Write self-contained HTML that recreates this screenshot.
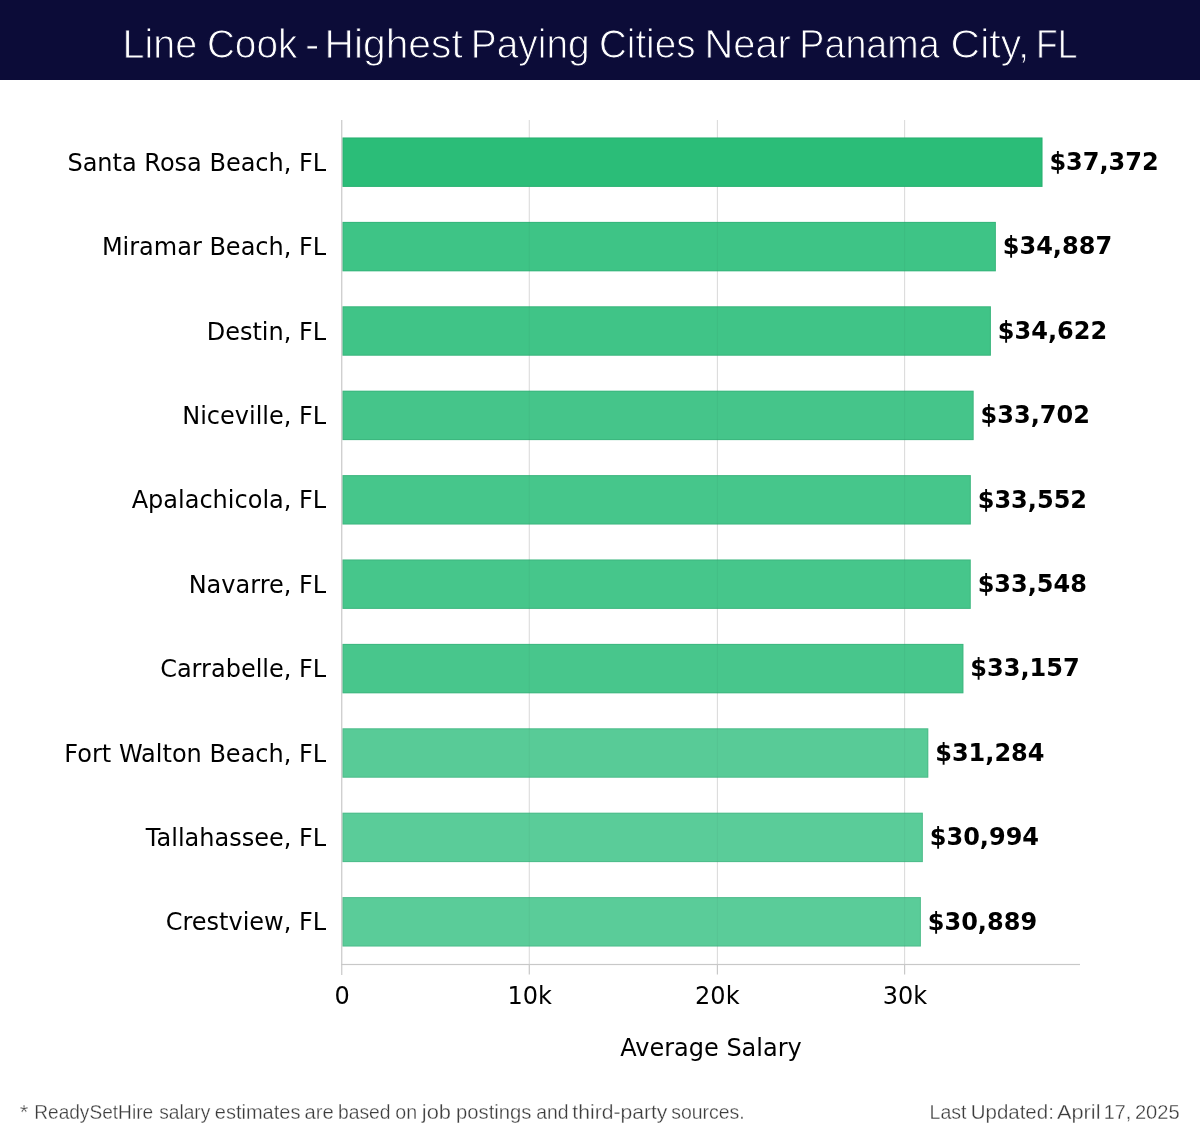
<!DOCTYPE html>
<html lang="en"><head><meta charset="utf-8"><title>Line Cook - Highest Paying Cities Near Panama City, FL</title>
<style>
html,body{margin:0;padding:0;background:#fff;}
body{width:1200px;height:1140px;overflow:hidden;position:relative;font-family:"DejaVu Sans","Liberation Sans",sans-serif;}
svg{position:absolute;left:0;top:0;display:block;}
.t{font-family:"Liberation Sans","DejaVu Sans",sans-serif;}
.d{font-family:"DejaVu Sans","Liberation Sans",sans-serif;}
</style></head><body>
<svg width="1200" height="1140" viewBox="0 0 1200 1140">
<rect x="0" y="0" width="1200" height="1140" fill="#ffffff"/>
<rect x="0" y="0" width="1200" height="80" fill="#0c0c38"/>
<text class="t" transform="translate(122.62 58.0) scale(0.9731 1)" font-size="40.6" fill="#ffffff" stroke="#0c0c38" stroke-width="1.0">Line </text><text class="t" transform="translate(206.90 58.0) scale(0.9542 1)" font-size="40.6" fill="#ffffff" stroke="#0c0c38" stroke-width="1.0">Cook </text><text class="t" transform="translate(304.95 58.0) scale(1.0696 1)" font-size="40.6" fill="#ffffff" stroke="#0c0c38" stroke-width="1.0">- </text><text class="t" transform="translate(324.51 58.0) scale(1.0043 1)" font-size="40.6" fill="#ffffff" stroke="#0c0c38" stroke-width="1.0">Highest </text><text class="t" transform="translate(470.77 58.0) scale(0.9582 1)" font-size="40.6" fill="#ffffff" stroke="#0c0c38" stroke-width="1.0">Paying </text><text class="t" transform="translate(598.93 58.0) scale(0.9514 1)" font-size="40.6" fill="#ffffff" stroke="#0c0c38" stroke-width="1.0">Cities </text><text class="t" transform="translate(704.46 58.0) scale(0.9813 1)" font-size="40.6" fill="#ffffff" stroke="#0c0c38" stroke-width="1.0">Near </text><text class="t" transform="translate(799.33 58.0) scale(0.9278 1)" font-size="40.6" fill="#ffffff" stroke="#0c0c38" stroke-width="1.0">Panama </text><text class="t" transform="translate(950.62 58.0) scale(1.0086 1)" font-size="40.6" fill="#ffffff" stroke="#0c0c38" stroke-width="1.0">City, </text><text class="t" transform="translate(1036.05 58.0) scale(0.8736 1)" font-size="40.6" fill="#ffffff" stroke="#0c0c38" stroke-width="1.0">FL </text>

<rect x="528.75" y="120" width="1.1" height="844.5" fill="#dcdcdc"/>
<rect x="716.85" y="120" width="1.1" height="844.5" fill="#dcdcdc"/>
<rect x="904.05" y="120" width="1.1" height="844.5" fill="#dcdcdc"/>
<rect x="342.35" y="137.50" width="700.14" height="49.4" fill="#2bbd78"/>
<rect x="342.85" y="138.00" width="699.14" height="48.4" fill="none" stroke="#0a6b3f" stroke-opacity="0.16" stroke-width="1"/>
<rect x="342.35" y="221.90" width="653.52" height="49.4" fill="#3ec486"/>
<rect x="342.85" y="222.40" width="652.52" height="48.4" fill="none" stroke="#0a6b3f" stroke-opacity="0.16" stroke-width="1"/>
<rect x="342.35" y="306.30" width="648.55" height="49.4" fill="#40c487"/>
<rect x="342.85" y="306.80" width="647.55" height="48.4" fill="none" stroke="#0a6b3f" stroke-opacity="0.16" stroke-width="1"/>
<rect x="342.35" y="390.70" width="631.29" height="49.4" fill="#45c58a"/>
<rect x="342.85" y="391.20" width="630.29" height="48.4" fill="none" stroke="#0a6b3f" stroke-opacity="0.16" stroke-width="1"/>
<rect x="342.35" y="475.10" width="628.48" height="49.4" fill="#46c68b"/>
<rect x="342.85" y="475.60" width="627.48" height="48.4" fill="none" stroke="#0a6b3f" stroke-opacity="0.16" stroke-width="1"/>
<rect x="342.35" y="559.50" width="628.40" height="49.4" fill="#46c68b"/>
<rect x="342.85" y="560.00" width="627.40" height="48.4" fill="none" stroke="#0a6b3f" stroke-opacity="0.16" stroke-width="1"/>
<rect x="342.35" y="643.90" width="621.07" height="49.4" fill="#48c68c"/>
<rect x="342.85" y="644.40" width="620.07" height="48.4" fill="none" stroke="#0a6b3f" stroke-opacity="0.16" stroke-width="1"/>
<rect x="342.35" y="728.30" width="585.94" height="49.4" fill="#58cb97"/>
<rect x="342.85" y="728.80" width="584.94" height="48.4" fill="none" stroke="#0a6b3f" stroke-opacity="0.16" stroke-width="1"/>
<rect x="342.35" y="812.70" width="580.50" height="49.4" fill="#5acc99"/>
<rect x="342.85" y="813.20" width="579.50" height="48.4" fill="none" stroke="#0a6b3f" stroke-opacity="0.16" stroke-width="1"/>
<rect x="342.35" y="897.10" width="578.53" height="49.4" fill="#5acc99"/>
<rect x="342.85" y="897.60" width="577.53" height="48.4" fill="none" stroke="#0a6b3f" stroke-opacity="0.16" stroke-width="1"/>
<rect x="528.70" y="221.90" width="1.2" height="49.4" fill="#000" opacity="0.03"/>
<rect x="528.70" y="306.30" width="1.2" height="49.4" fill="#000" opacity="0.03"/>
<rect x="528.70" y="390.70" width="1.2" height="49.4" fill="#000" opacity="0.03"/>
<rect x="528.70" y="475.10" width="1.2" height="49.4" fill="#000" opacity="0.03"/>
<rect x="528.70" y="559.50" width="1.2" height="49.4" fill="#000" opacity="0.03"/>
<rect x="528.70" y="643.90" width="1.2" height="49.4" fill="#000" opacity="0.03"/>
<rect x="528.70" y="728.30" width="1.2" height="49.4" fill="#000" opacity="0.03"/>
<rect x="528.70" y="812.70" width="1.2" height="49.4" fill="#000" opacity="0.03"/>
<rect x="528.70" y="897.10" width="1.2" height="49.4" fill="#000" opacity="0.03"/>
<rect x="716.80" y="221.90" width="1.2" height="49.4" fill="#000" opacity="0.03"/>
<rect x="716.80" y="306.30" width="1.2" height="49.4" fill="#000" opacity="0.03"/>
<rect x="716.80" y="390.70" width="1.2" height="49.4" fill="#000" opacity="0.03"/>
<rect x="716.80" y="475.10" width="1.2" height="49.4" fill="#000" opacity="0.03"/>
<rect x="716.80" y="559.50" width="1.2" height="49.4" fill="#000" opacity="0.03"/>
<rect x="716.80" y="643.90" width="1.2" height="49.4" fill="#000" opacity="0.03"/>
<rect x="716.80" y="728.30" width="1.2" height="49.4" fill="#000" opacity="0.03"/>
<rect x="716.80" y="812.70" width="1.2" height="49.4" fill="#000" opacity="0.03"/>
<rect x="716.80" y="897.10" width="1.2" height="49.4" fill="#000" opacity="0.03"/>
<rect x="904.00" y="221.90" width="1.2" height="49.4" fill="#000" opacity="0.03"/>
<rect x="904.00" y="306.30" width="1.2" height="49.4" fill="#000" opacity="0.03"/>
<rect x="904.00" y="390.70" width="1.2" height="49.4" fill="#000" opacity="0.03"/>
<rect x="904.00" y="475.10" width="1.2" height="49.4" fill="#000" opacity="0.03"/>
<rect x="904.00" y="559.50" width="1.2" height="49.4" fill="#000" opacity="0.03"/>
<rect x="904.00" y="643.90" width="1.2" height="49.4" fill="#000" opacity="0.03"/>
<rect x="904.00" y="728.30" width="1.2" height="49.4" fill="#000" opacity="0.03"/>
<rect x="904.00" y="812.70" width="1.2" height="49.4" fill="#000" opacity="0.03"/>
<rect x="904.00" y="897.10" width="1.2" height="49.4" fill="#000" opacity="0.03"/>
<rect x="341.15" y="120" width="1.2" height="855" fill="#c8c8c8"/>
<rect x="341.15" y="963.9" width="738.85" height="1.2" fill="#c8c8c8"/>
<rect x="528.70" y="964.5" width="1.2" height="10" fill="#c8c8c8"/>
<rect x="716.80" y="964.5" width="1.2" height="10" fill="#c8c8c8"/>
<rect x="904.00" y="964.5" width="1.2" height="10" fill="#c8c8c8"/>
<text class="d" x="326.2" y="170.70" font-size="24" fill="#000" text-anchor="end">Santa Rosa Beach, FL</text>
<text class="d" x="1049.39" y="170.00" font-size="24" font-weight="bold" fill="#000">$37,372</text>
<text class="d" x="326.2" y="255.10" font-size="24" fill="#000" text-anchor="end">Miramar Beach, FL</text>
<text class="d" x="1002.77" y="254.40" font-size="24" font-weight="bold" fill="#000">$34,887</text>
<text class="d" x="326.2" y="339.50" font-size="24" fill="#000" text-anchor="end">Destin, FL</text>
<text class="d" x="997.80" y="338.80" font-size="24" font-weight="bold" fill="#000">$34,622</text>
<text class="d" x="326.2" y="423.90" font-size="24" fill="#000" text-anchor="end">Niceville, FL</text>
<text class="d" x="980.54" y="423.20" font-size="24" font-weight="bold" fill="#000">$33,702</text>
<text class="d" x="326.2" y="508.30" font-size="24" fill="#000" text-anchor="end">Apalachicola, FL</text>
<text class="d" x="977.73" y="507.60" font-size="24" font-weight="bold" fill="#000">$33,552</text>
<text class="d" x="326.2" y="592.70" font-size="24" fill="#000" text-anchor="end">Navarre, FL</text>
<text class="d" x="977.65" y="592.00" font-size="24" font-weight="bold" fill="#000">$33,548</text>
<text class="d" x="326.2" y="677.10" font-size="24" fill="#000" text-anchor="end">Carrabelle, FL</text>
<text class="d" x="970.32" y="676.40" font-size="24" font-weight="bold" fill="#000">$33,157</text>
<text class="d" x="326.2" y="761.50" font-size="24" fill="#000" text-anchor="end">Fort Walton Beach, FL</text>
<text class="d" x="935.19" y="760.80" font-size="24" font-weight="bold" fill="#000">$31,284</text>
<text class="d" x="326.2" y="845.90" font-size="24" fill="#000" text-anchor="end">Tallahassee, FL</text>
<text class="d" x="929.75" y="845.20" font-size="24" font-weight="bold" fill="#000">$30,994</text>
<text class="d" x="326.2" y="930.30" font-size="24" fill="#000" text-anchor="end">Crestview, FL</text>
<text class="d" x="927.78" y="929.60" font-size="24" font-weight="bold" fill="#000">$30,889</text>
<text class="d" x="342.15" y="1004" font-size="24" fill="#000" text-anchor="middle">0</text>
<text class="d" x="529.73" y="1004" font-size="24" fill="#000" text-anchor="middle">10k</text>
<text class="d" x="717.32" y="1004" font-size="24" fill="#000" text-anchor="middle">20k</text>
<text class="d" x="904.90" y="1004" font-size="24" fill="#000" text-anchor="middle">30k</text>
<text class="d" x="711" y="1056" font-size="24" fill="#000" text-anchor="middle">Average Salary</text>
<g class="t" font-size="20" fill="#3c3c3c" stroke="#fff" stroke-width="0.3"><text transform="translate(19.77 1119.2) scale(1.1031 1)">* </text><text transform="translate(34.21 1119.2) scale(0.9559 1)">ReadySetHire </text><text transform="translate(159.16 1119.2) scale(0.9583 1)">salary </text><text transform="translate(214.77 1119.2) scale(1.0010 1)">estimates </text><text transform="translate(304.41 1119.2) scale(1.0123 1)">are </text><text transform="translate(337.95 1119.2) scale(0.9661 1)">based </text><text transform="translate(395.34 1119.2) scale(0.9812 1)">on </text><text transform="translate(421.86 1119.2) scale(1.0936 1)">job </text><text transform="translate(456.04 1119.2) scale(1.0126 1)">postings </text><text transform="translate(536.21 1119.2) scale(0.9693 1)">and </text><text transform="translate(572.37 1119.2) scale(1.0562 1)">third-party </text><text transform="translate(671.15 1119.2) scale(0.9745 1)">sources. </text></g>
<g class="t" font-size="20" fill="#3c3c3c" stroke="#fff" stroke-width="0.3"><text transform="translate(929.62 1119.2) scale(0.9773 1)">Last </text><text transform="translate(970.71 1119.2) scale(1.0246 1)">Updated: </text><text transform="translate(1056.96 1119.2) scale(1.0887 1)">April </text><text transform="translate(1103.81 1119.2) scale(0.9844 1)">17, </text><text transform="translate(1134.88 1119.2) scale(1.0079 1)">2025 </text></g>
</svg></body></html>
